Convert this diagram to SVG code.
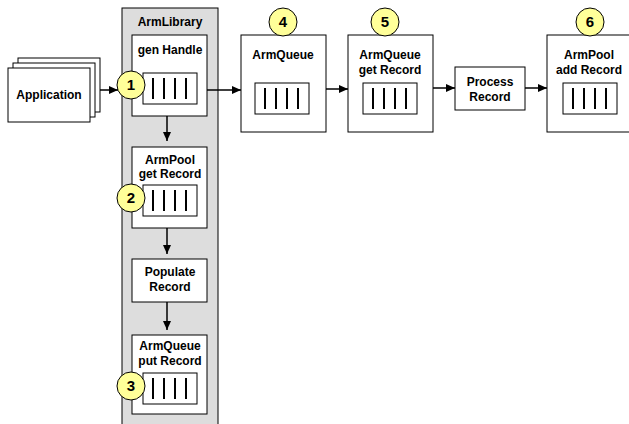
<svg xmlns="http://www.w3.org/2000/svg" width="629" height="424" viewBox="0 0 629 424">
<defs>
<marker id="ah" markerWidth="9" markerHeight="8" refX="9" refY="4" orient="auto" markerUnits="userSpaceOnUse">
<path d="M0,0 L9,4 L0,8 Z" fill="#000"/>
</marker>
<symbol id="q" overflow="visible">
<rect x="0" y="0" width="54" height="31" fill="#fff" stroke="#000" stroke-width="1"/>
<g stroke="#000" stroke-width="2">
<line x1="10" y1="5" x2="10" y2="26"/><line x1="21" y1="5" x2="21" y2="26"/>
<line x1="32" y1="5" x2="32" y2="26"/><line x1="43" y1="5" x2="43" y2="26"/>
</g>
</symbol>
</defs>
<style>
.box{fill:#fff;stroke:#000;stroke-width:1}
.t{font-family:"Liberation Sans",Arial,sans-serif;font-weight:bold;font-size:12px;text-anchor:middle;fill:#000}
.n{font-family:"Liberation Sans",Arial,sans-serif;font-weight:bold;font-size:15px;text-anchor:middle;fill:#000}
.c{fill:#ffff99;stroke:#000;stroke-width:1}
.e{stroke:#000;stroke-width:1.5;fill:none;marker-end:url(#ah)}
</style>
<rect width="629" height="424" fill="#fff"/>

<g id="application">
<rect class="box" x="18" y="58" width="82" height="54"/>
<rect class="box" x="13" y="63" width="82" height="54"/>
<rect class="box" x="8" y="68" width="82" height="54"/>
<text class="t" x="49" y="99">Application</text>
</g>

<g id="armlibrary">
<rect x="122" y="8" width="96" height="430" fill="#dddddd" stroke="#000" stroke-width="1"/>
<text class="t" x="170" y="26">ArmLibrary</text>
</g>

<g id="genhandle">
<rect class="box" x="132" y="35" width="75" height="81"/>
<text class="t" x="170" y="54">gen Handle</text>
<use href="#q" x="143" y="73"/>
<circle class="c" cx="131" cy="85" r="14"/>
<text class="n" x="131" y="90">1</text>
</g>

<g id="armpoolget">
<rect class="box" x="132" y="147" width="75" height="81"/>
<text class="t" x="170" y="164">ArmPool</text>
<text class="t" x="170" y="178">get Record</text>
<use href="#q" x="143" y="185"/>
<circle class="c" cx="131" cy="198" r="14"/>
<text class="n" x="131" y="203">2</text>
</g>

<g id="populate">
<rect class="box" x="132" y="259" width="75" height="43"/>
<text class="t" x="170" y="276">Populate</text>
<text class="t" x="170" y="291">Record</text>
</g>

<g id="armqueueput">
<rect class="box" x="132" y="335" width="75" height="79"/>
<text class="t" x="170" y="350">ArmQueue</text>
<text class="t" x="170" y="365">put Record</text>
<use href="#q" x="143" y="373"/>
<circle class="c" cx="131" cy="386" r="14"/>
<text class="n" x="131" y="391">3</text>
</g>

<g id="armqueue">
<rect class="box" x="241" y="35" width="85" height="97"/>
<text class="t" x="283" y="59">ArmQueue</text>
<use href="#q" x="255" y="83"/>
<circle class="c" cx="283" cy="22" r="14"/>
<text class="n" x="283" y="27">4</text>
</g>

<g id="armqueueget">
<rect class="box" x="348" y="35" width="85" height="97"/>
<text class="t" x="390" y="59">ArmQueue</text>
<text class="t" x="390" y="74">get Record</text>
<use href="#q" x="363" y="83"/>
<circle class="c" cx="385" cy="22" r="14"/>
<text class="n" x="385" y="27">5</text>
</g>

<g id="process">
<rect class="box" x="455" y="67" width="70" height="43"/>
<text class="t" x="490" y="86">Process</text>
<text class="t" x="490" y="101">Record</text>
</g>

<g id="armpooladd">
<rect class="box" x="547" y="35" width="86" height="97"/>
<text class="t" x="589" y="59">ArmPool</text>
<text class="t" x="589" y="74">add Record</text>
<use href="#q" x="563" y="83"/>
<circle class="c" cx="590" cy="22" r="14"/>
<text class="n" x="590" y="27">6</text>
</g>

<g id="connectors">
<line class="e" x1="100" y1="90" x2="118" y2="90"/>
<line class="e" x1="207" y1="90" x2="241" y2="90"/>
<line class="e" x1="326" y1="89" x2="348" y2="89"/>
<line class="e" x1="433" y1="88" x2="455" y2="88"/>
<line class="e" x1="525" y1="88" x2="547" y2="88"/>
<line class="e" x1="167" y1="116" x2="167" y2="141"/>
<line class="e" x1="167" y1="228" x2="167" y2="254"/>
<line class="e" x1="167" y1="302" x2="167" y2="330"/>
</g>
</svg>
